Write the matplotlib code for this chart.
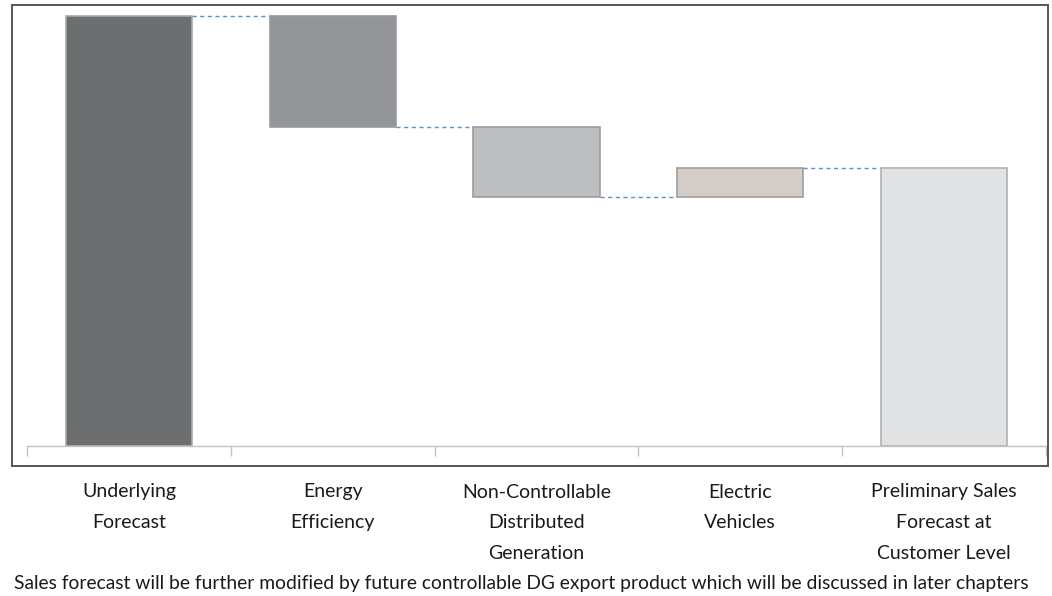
import matplotlib
matplotlib.use("Agg")
import matplotlib.pyplot as plt
from matplotlib.patches import Rectangle

categories = ["Underlying\nForecast", "Energy\nEfficiency",
              "Non-Controllable\nDistributed\nGeneration",
              "Electric\nVehicles",
              "Preliminary Sales\nForecast at\nCustomer Level"]
start_total = 100.0
changes = [-25.8, -16.3, 6.7]
colors = ["#6d6e70", "#939598", "#bcbec0", "#d5cec8", "#e1e2e3"]
caption = ("Sales forecast will be further modified by future controllable DG "
           "export product which will be discussed in later chapters")

plt.rcParams['font.family'] = ['Lato', 'DejaVu Sans']

W, H = 1052, 596
fig = plt.figure(figsize=(W / 100, H / 100), dpi=100)
ax = fig.add_axes([27 / W, (H - 446) / H, (1046 - 27) / W, (446 - 5) / H])

# compute waterfall
bottoms, heights = [], []
level = start_total
bottoms.append(0); heights.append(start_total)
levels = [start_total]
for c in changes:
    new = level + c
    bottoms.append(min(level, new)); heights.append(abs(c))
    level = new
    levels.append(level)
bottoms.append(0); heights.append(level)

width = 0.62
edge_cols = ["#a8a9ab", "#9a9b9e", "#9c9d9f", "#a09c99", "#b0b1b3"]
for i in range(5):
    ax.bar(i, heights[i], bottom=bottoms[i], width=width, color=colors[i],
           edgecolor=edge_cols[i], linewidth=1.2, zorder=2)

# connectors
for i in range(4):
    ax.plot([i + width / 2, i + 1 - width / 2], [levels[i], levels[i]],
            linestyle=(0, (3, 2.5)), color="#5b8fcf", linewidth=1.0, zorder=1)

ax.set_xlim(-0.5, 4.5)
ax.set_ylim(0, 100 * (446 - 5) / 430)
ax.set_yticks([])
for s in ["top", "left", "right"]:
    ax.spines[s].set_visible(False)
ax.spines["bottom"].set_color("#c3c3c3")
ax.spines["bottom"].set_linewidth(1.0)

ax.set_xticks(range(5))
ax.set_xticklabels(categories, fontsize=14, color="#1a1a1a", linespacing=1.99)
ax.tick_params(axis="x", which="major", length=0, pad=27)
ax.set_xticks([-0.5 + k for k in range(6)], minor=True)
ax.tick_params(axis="x", which="minor", length=7, width=1.0, color="#c3c3c3")

# outer frame
fig.add_artist(Rectangle((12 / W, (H - 466) / H), (1048 - 12) / W, (466 - 5) / H,
                         transform=fig.transFigure, fill=False,
                         edgecolor="#555555", linewidth=1.4))

fig.text(14 / W, 1 - 583 / H, caption, fontsize=13.9, color="#1a1a1a",
         ha="left", va="center")

fig.savefig("out.png", dpi=100)
